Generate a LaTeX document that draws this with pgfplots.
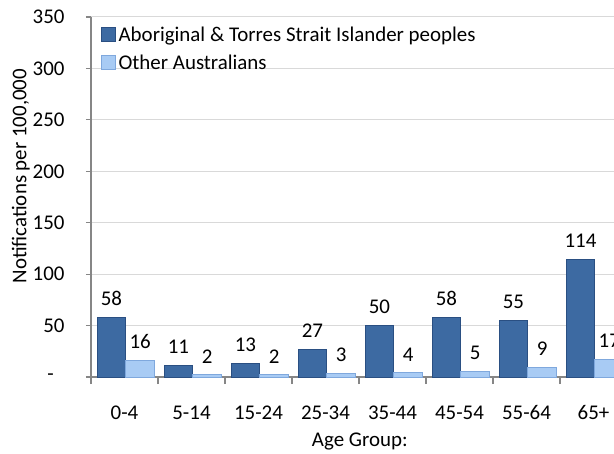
\documentclass[border=0pt]{standalone}
\usepackage{pgfplots}
\pgfplotsset{compat=1.18}
\usepackage{fontspec}
\setmainfont{Carlito}

\definecolor{dkmid}{HTML}{3D6AA2}
\definecolor{dkedge}{HTML}{2A4F82}
\definecolor{ltmid}{HTML}{A8CBF4}
\definecolor{ltedge}{HTML}{7FA8DD}
\definecolor{axisgray}{HTML}{868686}
\definecolor{gridgray}{HTML}{D9D9D9}
\newcommand\chartfont{\fontsize{21}{25}\selectfont}

\begin{document}
\begin{tikzpicture}
\begin{axis}[
  at={(0,0)}, anchor=south west,
  scale only axis, width=523bp, height=360bp,
  ybar, bar width=0.43,
  legend image code/.code={\path[#1] (0bp,-7bp) rectangle (14bp,7bp);},
  xmin=-0.5, xmax=7.306, ymin=0, ymax=350,
  axis lines*=left,
  axis line style={draw=axisgray, line width=1.3bp},
  tick align=outside,
  font=\chartfont,
  /pgf/number format/assume math mode=true,
  ytick={0,50,...,350},
  yticklabels={-\hphantom{0},50,100,150,200,250,300,350},
  ytick style={draw=axisgray, line width=1.2bp},
  major tick length=5bp,
  ymajorgrids,
  grid style={draw=gridgray, line width=1bp},
  xtick={0,...,7},
  xticklabels={0-4,5-14,15-24,25-34,35-44,45-54,55-64,65+},
  xtick style={draw=none},
  extra x ticks={-0.5,0.5,...,6.5},
  extra x tick labels={,,,,,,,},
  extra x tick style={xmajorgrids=false, major tick length=7bp,
    xtick style={draw=axisgray, line width=1.2bp}},
  xticklabel style={anchor=base, yshift=-37bp},
  yticklabel style={anchor=east, xshift=-18bp},
  xlabel={Age Group:},
  xlabel style={at={(axis description cs:0.514,-0.18)}, anchor=center},
  ylabel={Notifications per 100,000},
  ylabel style={at={(axis description cs:-0.134,0.558)}, anchor=center, rotate=0},
  nodes near coords,
  nodes near coords style={font=\chartfont, text=black, yshift=8bp},
  legend style={at={(axis description cs:0.019,0.98)}, anchor=north west,
    draw=none, fill=none, font=\chartfont, inner sep=0pt,
    nodes={inner sep=2.5bp}, row sep=7bp},
  legend cell align=left,
]
\addplot[bar shift=-0.195, fill=dkmid, draw=dkedge, line width=1bp]
  coordinates {(0,58) (1,11) (2,13) (3,27) (4,50) (5,58) (6,55) (7,114)};
\addlegendentry{Aboriginal \& Torres Strait Islander peoples}
\addplot[bar shift=0.235, fill=ltmid, draw=ltedge, line width=1bp]
  coordinates {(0,16) (1,2) (2,2) (3,3) (4,4) (5,5) (6,9) (7,17)};
\addlegendentry{Other Australians}
\end{axis}
\pgfresetboundingbox
\path (-91bp,-77bp) rectangle (523bp,377bp);
\end{tikzpicture}
\end{document}
